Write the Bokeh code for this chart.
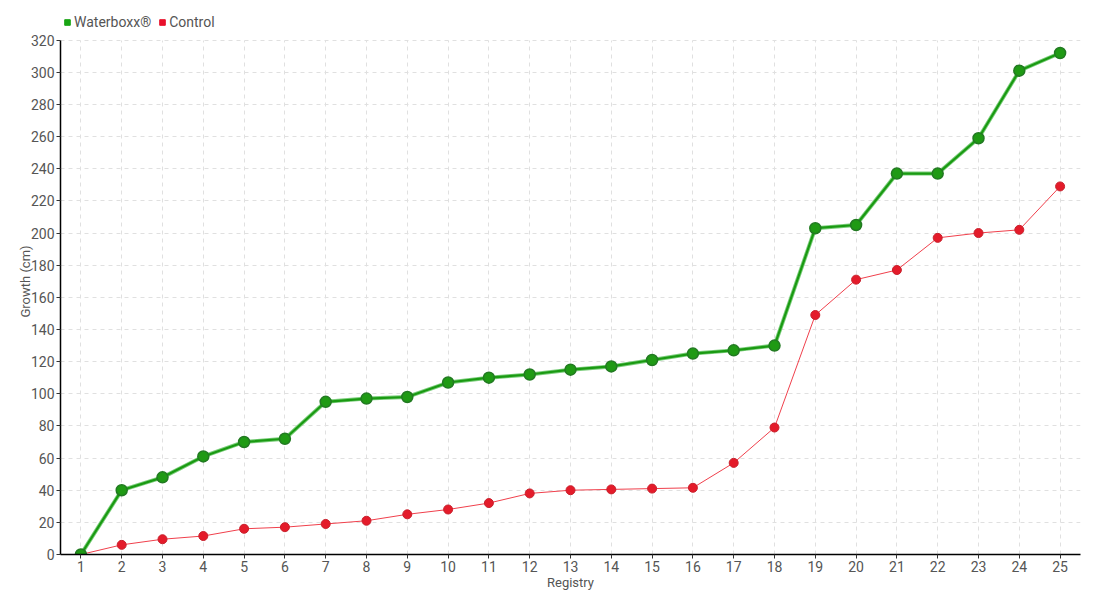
from bokeh.plotting import figure
from bokeh.models import Legend, LegendItem, Range1d, FixedTicker, ColumnDataSource
from bokeh.embed import file_html
from bokeh.resources import INLINE

registry = list(range(1, 26))
waterboxx = [0, 40, 48, 61, 70, 72, 95, 97, 98, 107, 110, 112, 115, 117, 121, 125, 127, 130,
             203, 205, 237, 237, 259, 301, 312]
control = [0, 6, 9.5, 11.5, 16, 17, 19, 21, 25, 28, 32, 38, 40, 40.5, 41, 41.5, 57, 79,
           149, 171, 177, 197, 200, 202, 229]
y_ticks = list(range(0, 321, 20))

FONT = "Roboto"
TXT = "#555555"

src = ColumnDataSource(dict(x=registry, w=waterboxx, c=control))

# frame extends a little above 320 so the legend can sit inside it
p = figure(width=1092, height=592, output_backend="svg", toolbar_location=None,
           x_range=Range1d(0.5, 25.5), y_range=Range1d(0, 339.7),
           min_border_left=60, min_border_right=12, min_border_top=8, min_border_bottom=32)
p.outline_line_color = None
p.background_fill_color = "white"

# grids
for g in (p.xgrid, p.ygrid):
    g.grid_line_color = "#e0e0e0"
    g.grid_line_dash = "4 4"
    g.grid_line_width = 1
p.xgrid.cross_bounds = (0, 320)

p.xaxis.ticker = FixedTicker(ticks=registry)
p.yaxis.ticker = FixedTicker(ticks=y_ticks)
p.yaxis.bounds = (0, 320)
for ax in (p.xaxis, p.yaxis):
    ax.axis_line_color = "black"
    ax.axis_line_width = 1.5
    ax.major_tick_line_color = "#333333"
    ax.major_tick_in = 0
    ax.major_tick_out = 4
    ax.minor_tick_line_color = None
    ax.major_label_text_font = FONT
    ax.major_label_text_font_size = "14px"
    ax.major_label_text_color = TXT
    ax.axis_label_text_font = FONT
    ax.axis_label_text_font_size = "13px"
    ax.axis_label_text_color = TXT
    ax.axis_label_text_font_style = "normal"
p.xaxis.axis_label = "Registry"
p.yaxis.axis_label = "Growth (cm)"
p.xaxis.axis_label_standoff = 0
p.yaxis.axis_label_standoff = -5
p.xaxis.major_label_standoff = 2
p.yaxis.major_label_standoff = 2

# Control series
p.line("x", "c", source=src, line_color="#f0404c", line_width=1)
p.scatter("x", "c", source=src, size=9, fill_color="#e41b2a", line_color="#c8202c", line_width=1)

# Waterboxx series
p.line("x", "w", source=src, line_color="#6cc86c", line_width=4, line_alpha=0.9)
p.line("x", "w", source=src, line_color="#1a9a12", line_width=2.2)
p.scatter("x", "w", source=src, size=11, fill_color="#1f9a14", line_color="#227a22", line_width=1.5)

# legend proxies (single NaN point, not drawn)
nan = float("nan")
lw = p.scatter(x=[nan], y=[nan], marker="square", size=7, fill_color="#1aa514", line_color="#1aa514")
lc = p.scatter(x=[nan], y=[nan], marker="square", size=7, fill_color="#e8102c", line_color="#e8102c")
legend = Legend(items=[LegendItem(label="Waterboxx®", renderers=[lw]),
                       LegendItem(label="Control", renderers=[lc])],
                orientation="horizontal", location=(0, 524),
                background_fill_alpha=0, border_line_color=None,
                label_text_font=FONT, label_text_font_size="14px", label_text_color=TXT,
                label_height=16, glyph_width=14, glyph_height=16, label_standoff=0, spacing=4,
                padding=0, margin=0)
p.add_layout(legend, "center")

open("out.html", "w").write(file_html(p, INLINE))
